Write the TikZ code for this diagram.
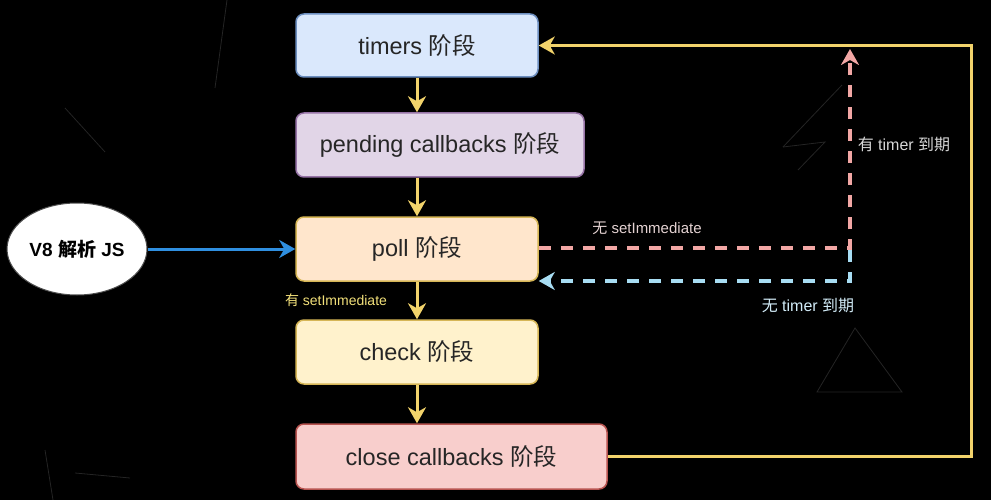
\documentclass[tikz,border=0pt]{standalone}
\usepackage{fontspec}
\setmainfont{Liberation Sans}
\newfontfamily\cjk{Noto Sans CJK SC}
\newcommand\zh[1]{{\cjk #1}}
\usetikzlibrary{arrows.meta,shapes.geometric,calc}
\definecolor{flowyel}{HTML}{F2D36B}
\definecolor{pinkd}{HTML}{F2A7A5}
\definecolor{blued}{HTML}{A8DDF3}
\definecolor{v8blue}{HTML}{2F8FE0}
\definecolor{faint}{HTML}{242424}
\definecolor{tfill}{HTML}{DAE8FC}\definecolor{tdraw}{HTML}{6C8EBF}
\definecolor{pfill}{HTML}{E1D5E7}\definecolor{pdraw}{HTML}{9673A6}
\definecolor{ofill}{HTML}{FFE6CC}\definecolor{odraw}{HTML}{D6B656}
\definecolor{cfill}{HTML}{FFF2CC}\definecolor{cdraw}{HTML}{D6B656}
\definecolor{kfill}{HTML}{F8CECC}\definecolor{kdraw}{HTML}{B85450}
\definecolor{labA}{HTML}{E4D2D2}
\definecolor{labB}{HTML}{D8D8D8}
\definecolor{labC}{HTML}{D2ECF8}
\definecolor{labD}{HTML}{F2E07A}
\tikzset{
  phase/.style={draw, line width=1.5pt, rounded corners=8pt, minimum height=64pt,
    text=black!85, font=\fontsize{23.5}{27}\selectfont, inner sep=0pt},
  tip/.style={-{Stealth[length=16pt,width=18pt,inset=5pt]}},
  flow/.style={draw=flowyel, line width=3pt, tip},
  dashpink/.style={draw=pinkd, line width=3.5pt, dash pattern=on 12pt off 10pt, tip},
  dashblue/.style={draw=blued, line width=3.5pt, dash pattern=on 12pt off 10pt, tip},
  lab/.style={font=\fontsize{15}{17}\selectfont, inner sep=0pt},
  deco/.style={draw=faint, line width=0.8pt}
}
\begin{document}
\begin{tikzpicture}[x=1pt,y=-1pt]
\fill[black] (0,0) rectangle (991,500);
\useasboundingbox (0,0) rectangle (991,500);
% faint background decoration
\draw[deco] (855,328) -- (817,392) -- (902,392) -- cycle;
\draw[deco] (227,0) -- (215,88);
\draw[deco] (65,108) -- (105,152);
\draw[deco] (783,147) -- (842,85);
\draw[deco] (783,147) -- (825,142) -- (798,170);
\draw[deco] (45,450) -- (53,500);
\draw[deco] (75,473) -- (130,478);
% nodes
\node[phase, fill=tfill, draw=tdraw, minimum width=242pt, minimum height=63pt] (timers) at (417,45.5) {timers \zh{阶段}};
\node[phase, fill=pfill, draw=pdraw, minimum width=288pt] (pending) at (440,145) {pending callbacks \zh{阶段}};
\node[phase, fill=ofill, draw=odraw, minimum width=242pt] (poll) at (417,249) {poll \zh{阶段}};
\node[phase, fill=cfill, draw=cdraw, minimum width=242pt] (check) at (417,352) {check \zh{阶段}};
\node[phase, fill=kfill, draw=kdraw, minimum width=311pt, minimum height=65pt] (close) at (451.5,456.5) {close callbacks \zh{阶段}};
\node[ellipse, fill=white, draw=black!70, line width=1pt, minimum width=140pt, minimum height=92pt, inner sep=0pt,
  font=\bfseries\fontsize{19}{22}\selectfont] (v8) at (77,249) {V8 \zh{\bfseries 解析} JS};
% coordinates
\coordinate (loopc) at (971,45.5);
\coordinate (pinktop) at (850,49);
\coordinate (bluestart) at (850,250);
\coordinate (blueend) at ($(poll.east)+(0,32)$);
\coordinate (pinkstart) at ($(poll.east)+(0,-1)$);
% main flow
\draw[flow] (timers.south) -- (timers.south |- pending.north);
\draw[flow] (timers.south |- pending.south) -- (poll.north);
\draw[flow] (poll.south) -- (check.north);
\draw[flow] (check.south) -- (check.south |- close.north);
\draw[flow] (close.east) -| (loopc) -- (timers.east);
\draw[draw=v8blue, line width=3pt, tip] (v8.east) -- (poll.west);
% dashed branches
\draw[dashblue] (bluestart) |- (blueend);
\draw[dashpink] (pinkstart) -| (pinktop);
% labels
\node[lab, text=labA] (l1) at (647,228) {\zh{无} setImmediate};
\node[lab, text=labB, font=\fontsize{16}{18}\selectfont] (l2) at (904,144) {\zh{有} timer \zh{到期}};
\node[lab, text=labC, font=\fontsize{16}{18}\selectfont] (l3) at (808,306) {\zh{无} timer \zh{到期}};
\node[lab, text=labD, font=\fontsize{14}{16}\selectfont] (l4) at (336,300) {\zh{有} setImmediate};
\end{tikzpicture}
\end{document}
